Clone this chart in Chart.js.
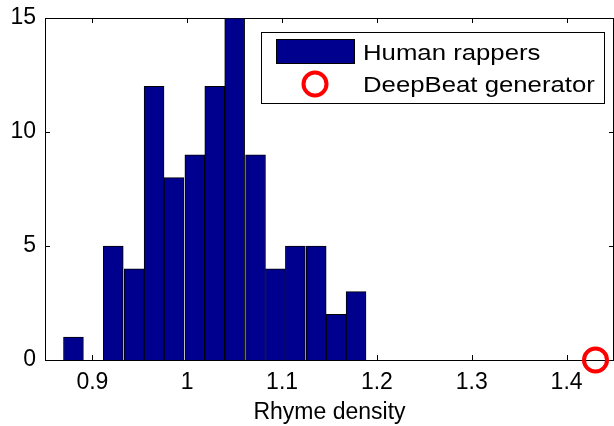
<!DOCTYPE html>
<html>
<head>
<meta charset="utf-8">
<script src="https://cdn.jsdelivr.net/npm/chart.js@4/dist/chart.umd.min.js"></script>
<style>
  html, body { margin: 0; padding: 0; background: #fff; overflow: hidden; }
  #wrap { width: 614px; height: 426px; }
</style>
</head>
<body>
<div id="wrap"><canvas id="chart"></canvas></div>
<script>
// histogram bins (centres) and counts
const binCenters = [0.880, 0.901, 0.922, 0.944, 0.965, 0.986, 1.008, 1.029,
                    1.050, 1.072, 1.093, 1.114, 1.136, 1.157, 1.178];
const binCounts = [1, 0, 5, 4, 12, 8, 9, 12, 15, 9, 4, 5, 5, 2, 3];
// single DeepBeat score
const generatorX = [1.4305];
const generatorY = [0];
const xTicks = [0.9, 1, 1.1, 1.2, 1.3, 1.4];
const yTicks = [0, 5, 10, 15];
const labels = ["Human rappers", "DeepBeat generator"];

const navy = "#00008f";
const font = "'Liberation Sans', Arial, Helvetica, sans-serif";

// box around plot + inward tick marks on all four sides (matlab style)
const framePlugin = {
    id: "frame",
    beforeDatasetsDraw(chart) {
        const { ctx, chartArea: a, scales } = chart;
        ctx.save();
        ctx.strokeStyle = "#000";
        ctx.lineWidth = 1;
        ctx.strokeRect(a.left + 0.5, a.top + 0.5, a.right - a.left - 1, a.bottom - a.top);
        ctx.beginPath();
        xTicks.forEach(v => {
            let px = Math.round(scales.x.getPixelForValue(v)) + 0.5;
            ctx.moveTo(px, a.bottom); ctx.lineTo(px, a.bottom - 5);
            ctx.moveTo(px, a.top); ctx.lineTo(px, a.top + 5);
        });
        yTicks.forEach(v => {
            let py = Math.round(scales.y.getPixelForValue(v)) + 0.5;
            ctx.moveTo(a.left, py); ctx.lineTo(a.left + 5, py);
            ctx.moveTo(a.right, py); ctx.lineTo(a.right - 5, py);
        });
        ctx.stroke();
        ctx.restore();
    }
};

// legend box in the top right corner
const legendPlugin = {
    id: "boxLegend",
    afterDraw(chart) {
        const ctx = chart.ctx;
        ctx.save();
        ctx.fillStyle = "#fff";
        ctx.fillRect(261, 32, 343, 71);
        ctx.strokeStyle = "#000";
        ctx.lineWidth = 1;
        ctx.strokeRect(261.5, 32.5, 343, 71);

        ctx.fillStyle = navy;
        ctx.fillRect(276, 39, 78, 24);
        ctx.strokeRect(276.5, 39.5, 78, 24);

        ctx.beginPath();
        ctx.arc(315, 84, 11.5, 0, Math.PI * 2);
        ctx.strokeStyle = "#ff0000";
        ctx.lineWidth = 4;
        ctx.stroke();

        // text in the picture is a bit wider than it is tall
        ctx.fillStyle = "#000";
        ctx.font = "22px " + font;
        ctx.textBaseline = "alphabetic";
        ctx.translate(363, 0);
        ctx.scale(1.17, 1);
        ctx.fillText(labels[0], 0, 60);
        ctx.fillText(labels[1], 0, 92);
        ctx.restore();
    }
};

// stop tick labels from pushing the plot area around
function noPadding(s) {
    s.paddingLeft = 0;
    s.paddingRight = 0;
    s.paddingTop = 0;
    s.paddingBottom = 0;
}

function main() {
    let barData = binCenters.map((x, i) => ({ x: x, y: binCounts[i] }));
    let genData = generatorX.map((x, i) => ({ x: x, y: generatorY[i] }));

    new Chart(document.getElementById("chart"), {
        type: "bar",
        data: {
            datasets: [
                {
                    label: labels[0],
                    data: barData,
                    backgroundColor: navy,
                    borderColor: "#000",
                    borderWidth: 1,
                    barPercentage: 1,
                    categoryPercentage: 1,
                    order: 2
                },
                {
                    type: "scatter",
                    label: labels[1],
                    data: genData,
                    pointStyle: "circle",
                    pointRadius: 11.5,
                    pointBorderWidth: 4,
                    borderColor: "#ff0000",
                    backgroundColor: "rgba(0,0,0,0)",
                    clip: false,
                    order: 1
                }
            ]
        },
        options: {
            responsive: true,
            maintainAspectRatio: false,
            animation: false,
            // the right edge of the axes box sits just outside the picture
            layout: { autoPadding: false, padding: { top: 18, right: -3, left: 0, bottom: 0 } },
            plugins: {
                legend: { display: false },
                tooltip: { enabled: false }
            },
            scales: {
                x: {
                    type: "linear",
                    offset: false,
                    min: 0.85,
                    max: 1.45,
                    afterBuildTicks: s => { s.ticks = xTicks.map(v => ({ value: v })); },
                    afterFit: s => { s.height = 66; noPadding(s); },
                    grid: { display: false, drawTicks: false, offset: false },
                    border: { display: false },
                    ticks: {
                        color: "#000",
                        font: { family: font, size: 23 },
                        padding: 9,
                        maxRotation: 0,
                        callback: v => String(v)
                    },
                    title: {
                        display: true,
                        text: "Rhyme density",
                        color: "#000",
                        font: { family: font, size: 23 },
                        padding: { top: 0, bottom: 0 }
                    }
                },
                y: {
                    min: 0,
                    max: 15,
                    afterBuildTicks: s => { s.ticks = yTicks.map(v => ({ value: v })); },
                    afterFit: s => { s.width = 45; noPadding(s); },
                    grid: { display: false, drawTicks: false },
                    border: { display: false },
                    ticks: {
                        color: "#000",
                        font: { family: font, size: 23 },
                        padding: 9
                    }
                }
            }
        },
        plugins: [framePlugin, legendPlugin]
    });
}

document.addEventListener("DOMContentLoaded", main);
</script>
</body>
</html>
